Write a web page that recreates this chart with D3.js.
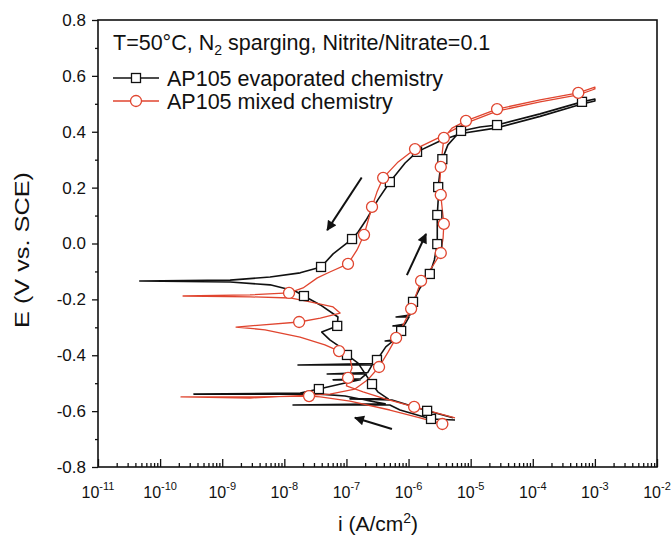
<!DOCTYPE html>
<html>
<head>
<meta charset="utf-8">
<script src="https://cdn.jsdelivr.net/npm/d3@7"></script>
<style>
  body { margin: 0; background: #fff; }
  svg { display: block; }
  text { font-family: "Liberation Sans", Arial, Helvetica, sans-serif; fill: #111; }
</style>
</head>
<body>
<svg id="chart" width="671" height="536"></svg>
<script>
// Cyclic polarization scans, current density i (A/cm2) and potential E (V vs. SCE)
const seriesNames = ["AP105 evaporated chemistry", "AP105 mixed chemistry"];
const seriesColors = ["#111111", "#e0452f"];

// AP105 evaporated chemistry: forward scan then reverse scan
const evapI = [
  5.6e-6, 2.3e-6, 7.3e-7, 5.0e-7, 1.38e-8, 4.2e-7, 2.4e-7, 9.5e-8, 3.8e-8, 3.5e-10,
  1.8e-8, 3.6e-8, 9.5e-8, 1.66e-7, 6.1e-8, 1.7e-7, 2.1e-7, 4.9e-8, 2.2e-7, 2.58e-7,
  1.66e-8, 2.7e-7, 3.1e-7, 4.3e-7, 5.6e-7, 4.2e-7, 5.8e-7, 7.6e-7, 8.5e-7, 5.6e-7,
  8.8e-7, 1.02e-6, 6.3e-7, 1.05e-6, 1.18e-6, 1.53e-6, 2.2e-6, 2.6e-6, 2.9e-6, 2.9e-6,
  2.9e-6, 3.0e-6, 3.0e-6, 3.2e-6, 3.5e-6, 4.3e-6, 5.6e-6, 7.0e-6, 1.42e-5, 2.66e-5,
  1.31e-4, 6.2e-4, 1.0e-3,
  1.0e-3, 6.2e-4, 1.31e-4, 2.66e-5, 7.0e-6, 3.2e-6, 1.37e-6, 8.8e-7, 5.0e-7, 3.2e-7,
  2.07e-7, 1.54e-7, 1.23e-7, 8.8e-8, 6.1e-8, 3.9e-8, 1.8e-8, 5.9e-9, 1.34e-9, 4.7e-11,
  1.34e-9, 5.9e-9, 1.49e-8, 2.07e-8, 3.8e-8, 7.3e-8, 7.1e-8, 4.0e-8, 5.4e-8, 7.9e-8,
  1.02e-7, 1.54e-7, 2.07e-7, 2.58e-7, 3.2e-7, 4.7e-7, 1.14e-7, 5.4e-7, 1.99e-6, 5.2e-6
];
const evapE = [
  -0.632, -0.628, -0.596, -0.578, -0.578, -0.574, -0.564, -0.546, -0.539, -0.539,
  -0.535, -0.521, -0.499, -0.488, -0.488, -0.484, -0.467, -0.467, -0.462, -0.435,
  -0.435, -0.430, -0.417, -0.370, -0.349, -0.349, -0.345, -0.313, -0.295, -0.295,
  -0.288, -0.263, -0.263, -0.256, -0.209, -0.159, -0.109, -0.059, -0.002, 0.048,
  0.102, 0.156, 0.202, 0.256, 0.302, 0.353, 0.381, 0.403, 0.417, 0.424,
  0.464, 0.507, 0.517,
  0.510, 0.499, 0.455, 0.414, 0.394, 0.367, 0.328, 0.288, 0.220, 0.156,
  0.084, 0.041, 0.016, -0.009, -0.037, -0.084, -0.105, -0.120, -0.131, -0.134,
  -0.138, -0.148, -0.170, -0.188, -0.220, -0.263, -0.295, -0.317, -0.345, -0.370,
  -0.399, -0.428, -0.471, -0.503, -0.531, -0.556, -0.556, -0.560, -0.599, -0.624
];
const evapMarkI = [
  2.3e-6, 3.6e-8, 3.1e-7, 7.6e-7, 1.18e-6, 2.2e-6, 2.9e-6, 2.9e-6, 3.0e-6, 3.5e-6,
  7.0e-6, 2.66e-5, 6.2e-4, 1.37e-6, 5.0e-7, 1.23e-7, 3.9e-8, 2.07e-8, 7.1e-8, 1.02e-7,
  2.58e-7, 1.99e-6
];
const evapMarkE = [
  -0.628, -0.521, -0.417, -0.313, -0.209, -0.109, -0.002, 0.102, 0.202, 0.302,
  0.403, 0.424, 0.507, 0.328, 0.220, 0.016, -0.084, -0.188, -0.295, -0.399,
  -0.503, -0.599
];

// AP105 mixed chemistry: forward scan then reverse scan
const mixI = [
  3.5e-6, 1.53e-6, 5.0e-7, 1.14e-7, 3.8e-8, 2.5e-8, 2.8e-9, 2.17e-10, 2.8e-9, 5.4e-8,
  1.37e-7, 2.2e-7, 3.35e-7, 4.7e-7, 6.3e-7, 8.5e-7, 1.1e-6, 1.32e-6, 1.59e-6, 2.4e-6,
  3.3e-6, 3.6e-6, 3.7e-6, 3.5e-6, 3.3e-6, 3.2e-6, 3.3e-6, 3.5e-6, 3.7e-6, 5.0e-6,
  8.4e-6, 2.66e-5, 1.31e-4, 5.4e-4, 1.0e-3,
  1.0e-3, 5.4e-4, 1.31e-4, 2.66e-5, 8.4e-6, 3.2e-6, 1.27e-6, 6.8e-7, 3.9e-7, 3.1e-7,
  2.58e-7, 2.2e-7, 1.92e-7, 1.48e-7, 1.06e-7, 5.4e-8, 3.4e-8, 2.0e-8, 1.19e-8, 2.8e-9,
  2.34e-10, 2.8e-9, 1.24e-8, 2.6e-8, 6.1e-8, 7.9e-8, 3.8e-8, 1.73e-8, 4.1e-9, 1.67e-9,
  4.9e-9, 1.79e-8, 4.5e-8, 7.6e-8, 1.14e-7, 1.23e-7, 1.06e-7, 1.0e-7, 1.85e-7, 4.2e-7,
  1.23e-6, 5.6e-6
];
const mixE = [
  -0.646, -0.624, -0.596, -0.564, -0.549, -0.546, -0.549, -0.549, -0.553, -0.539,
  -0.521, -0.488, -0.442, -0.388, -0.338, -0.284, -0.234, -0.184, -0.134, -0.084,
  -0.034, 0.020, 0.070, 0.120, 0.174, 0.224, 0.274, 0.328, 0.378, 0.413,
  0.439, 0.481, 0.514, 0.539, 0.560,
  0.553, 0.532, 0.507, 0.474, 0.431, 0.381, 0.338, 0.292, 0.235, 0.184,
  0.131, 0.077, 0.031, -0.023, -0.073, -0.102, -0.123, -0.159, -0.177, -0.184,
  -0.188, -0.191, -0.195, -0.209, -0.227, -0.249, -0.267, -0.281, -0.292, -0.299,
  -0.309, -0.335, -0.363, -0.385, -0.410, -0.446, -0.481, -0.510, -0.531, -0.556,
  -0.585, -0.624
];
const mixMarkI = [
  3.5e-6, 2.5e-8, 3.35e-7, 6.3e-7, 1.1e-6, 1.59e-6, 3.3e-6, 3.7e-6, 3.3e-6, 3.3e-6,
  3.7e-6, 8.4e-6, 2.66e-5, 5.4e-4, 1.27e-6, 3.9e-7, 2.58e-7, 1.92e-7, 1.06e-7, 1.19e-8,
  1.73e-8, 7.6e-8, 1.06e-7, 1.23e-6
];
const mixMarkE = [
  -0.646, -0.546, -0.442, -0.338, -0.234, -0.134, -0.034, 0.070, 0.174, 0.274,
  0.378, 0.439, 0.481, 0.539, 0.338, 0.235, 0.131, 0.031, -0.073, -0.177,
  -0.281, -0.385, -0.481, -0.585
];

// Scan direction arrows (tail -> head)
const arrowTailI = [1.76e-7, 9.4e-7, 5.4e-7];
const arrowTailE = [0.236, -0.113, -0.664];
const arrowHeadI = [4.9e-8, 1.91e-6, 1.37e-7];
const arrowHeadE = [0.048, 0.034, -0.624];

// Axis ticks
const xDecades = [-11, -10, -9, -8, -7, -6, -5, -4, -3, -2];
const yMajorTicks = [0.8, 0.6, 0.4, 0.2, 0.0, -0.2, -0.4, -0.6, -0.8];
const yMinorTicks = [0.7, 0.5, 0.3, 0.1, -0.1, -0.3, -0.5, -0.7];
const titleText = ["T=50°C, N", "2", " sparging, Nitrite/Nitrate=0.1"];
const xTitle = ["i (A/cm", "2", ")"];
const yTitle = "E (V vs. SCE)";

const svg = d3.select("#chart");
const W = 671, H = 536;
const plot = { left: 98, right: 657, top: 20, bottom: 467 };

svg.append("rect").attr("width", W).attr("height", H).attr("fill", "#fff");

const x = d3.scaleLog().domain([1e-11, 1e-2]).range([plot.left, plot.right]);
const y = d3.scaleLinear().domain([-0.8, 0.8]).range([plot.bottom, plot.top]);

// x axis: ticks point into the plot
const xMinor = [];
xDecades.slice(0, -1).forEach(e => { for (let k = 2; k <= 9; k++) xMinor.push(k * Math.pow(10, e)); });
const xMajor = xDecades.map(e => Math.pow(10, e));

const gx = svg.append("g").attr("transform", `translate(0,${plot.bottom})`);
gx.call(d3.axisBottom(x).tickValues(xMinor).tickSizeInner(-4).tickSizeOuter(0).tickFormat(""));
gx.select(".domain").remove();
const gx2 = svg.append("g").attr("transform", `translate(0,${plot.bottom})`);
gx2.call(d3.axisBottom(x).tickValues(xMajor).tickSizeInner(-8).tickSizeOuter(0).tickFormat(""));
gx2.select(".domain").remove();

// x tick labels with superscript exponents
const xl = svg.append("g");
xDecades.forEach(e => {
  const t = xl.append("text").attr("x", x(Math.pow(10, e))).attr("y", 498)
    .attr("text-anchor", "middle").attr("font-size", 16);
  t.append("tspan").text("10");
  t.append("tspan").attr("dy", -8).attr("font-size", 11).text(String(e));
});

// y axis: ticks outward
const gy = svg.append("g").attr("transform", `translate(${plot.left},0)`);
gy.call(d3.axisLeft(y).tickValues(yMinorTicks).tickSizeInner(3).tickSizeOuter(0).tickFormat(""));
gy.select(".domain").remove();
const gy2 = svg.append("g").attr("transform", `translate(${plot.left},0)`);
gy2.call(d3.axisLeft(y).tickValues(yMajorTicks).tickSizeInner(6).tickSizeOuter(0).tickPadding(6)
  .tickFormat(d3.format(".1f")));
gy2.select(".domain").remove();
gy2.selectAll("text").attr("font-size", 17).attr("fill", "#111")
  .style("font-family", '"Liberation Sans", Arial, sans-serif')
  .text(d => d3.format(".1f")(d).replace("−", "-"));
svg.selectAll("g .tick line").attr("stroke", "#111").attr("stroke-width", 1.3);

// plot frame
svg.append("rect")
  .attr("x", plot.left).attr("y", plot.top)
  .attr("width", plot.right - plot.left).attr("height", plot.bottom - plot.top)
  .attr("fill", "none").attr("stroke", "#111").attr("stroke-width", 1.6);

// curves
const line = d3.line().x(d => x(d[0])).y(d => y(d[1]));
const evapPts = evapI.map((v, k) => [v, evapE[k]]);
const mixPts = mixI.map((v, k) => [v, mixE[k]]);

svg.append("clipPath").attr("id", "clip").append("rect")
  .attr("x", plot.left).attr("y", plot.top)
  .attr("width", plot.right - plot.left).attr("height", plot.bottom - plot.top);

const gData = svg.append("g").attr("clip-path", "url(#clip)");
gData.append("path").datum(evapPts).attr("d", line)
  .attr("fill", "none").attr("stroke", seriesColors[0]).attr("stroke-width", 1.6)
  .attr("stroke-linejoin", "round");
gData.append("path").datum(mixPts).attr("d", line)
  .attr("fill", "none").attr("stroke", seriesColors[1]).attr("stroke-width", 1.3)
  .attr("stroke-linejoin", "round");

const sq = 9;
gData.selectAll("rect.m").data(evapMarkI.map((v, k) => [v, evapMarkE[k]])).join("rect")
  .attr("class", "m")
  .attr("x", d => x(d[0]) - sq / 2).attr("y", d => y(d[1]) - sq / 2)
  .attr("width", sq).attr("height", sq)
  .attr("fill", "#fff").attr("stroke", seriesColors[0]).attr("stroke-width", 1.3);
gData.selectAll("circle.m").data(mixMarkI.map((v, k) => [v, mixMarkE[k]])).join("circle")
  .attr("class", "m")
  .attr("cx", d => x(d[0])).attr("cy", d => y(d[1])).attr("r", 5.5)
  .attr("fill", "#fff").attr("stroke", seriesColors[1]).attr("stroke-width", 1.3);

// scan direction arrows
const defs = svg.append("defs");
defs.append("marker").attr("id", "ah").attr("viewBox", "0 0 10 10")
  .attr("refX", 9).attr("refY", 5).attr("markerWidth", 5.5).attr("markerHeight", 5)
  .attr("markerUnits", "strokeWidth").attr("orient", "auto")
  .append("path").attr("d", "M0,0 L10,5 L0,10 Z").attr("fill", "#111");
arrowTailI.forEach((v, k) => {
  svg.append("line")
    .attr("x1", x(v)).attr("y1", y(arrowTailE[k]))
    .attr("x2", x(arrowHeadI[k])).attr("y2", y(arrowHeadE[k]))
    .attr("stroke", "#111").attr("stroke-width", 2)
    .attr("marker-end", "url(#ah)");
});

// annotation and legend
const tt = svg.append("text").attr("x", 113).attr("y", 50).attr("font-size", 21.5);
tt.append("tspan").text(titleText[0]);
tt.append("tspan").attr("dy", 5).attr("font-size", 14).text(titleText[1]);
tt.append("tspan").attr("dy", -5).text(titleText[2]);

const legY = [78, 101];
seriesNames.forEach((name, k) => {
  const g = svg.append("g").attr("transform", `translate(0,${legY[k]})`);
  g.append("line").attr("x1", 113).attr("x2", 159).attr("y1", 0).attr("y2", 0)
    .attr("stroke", seriesColors[k]).attr("stroke-width", k ? 1.3 : 1.6);
  if (k === 0) {
    g.append("rect").attr("x", 136 - sq / 2).attr("y", -sq / 2).attr("width", sq).attr("height", sq)
      .attr("fill", "#fff").attr("stroke", seriesColors[0]).attr("stroke-width", 1.3);
  } else {
    g.append("circle").attr("cx", 136).attr("cy", 0).attr("r", 5.5)
      .attr("fill", "#fff").attr("stroke", seriesColors[1]).attr("stroke-width", 1.3);
  }
  g.append("text").attr("x", 167).attr("y", 8).attr("font-size", 21.5).text(name);
});

// axis titles
const xt = svg.append("text").attr("x", 378).attr("y", 531).attr("text-anchor", "middle").attr("font-size", 21);
xt.append("tspan").text(xTitle[0]);
xt.append("tspan").attr("dy", -8).attr("font-size", 14).text(xTitle[1]);
xt.append("tspan").attr("dy", 8).text(xTitle[2]);

svg.append("text").attr("transform", "translate(29,250) rotate(-90)")
  .attr("text-anchor", "middle").attr("font-size", 21)
  .attr("textLength", 156).attr("lengthAdjust", "spacingAndGlyphs").text(yTitle);
</script>
</body>
</html>
